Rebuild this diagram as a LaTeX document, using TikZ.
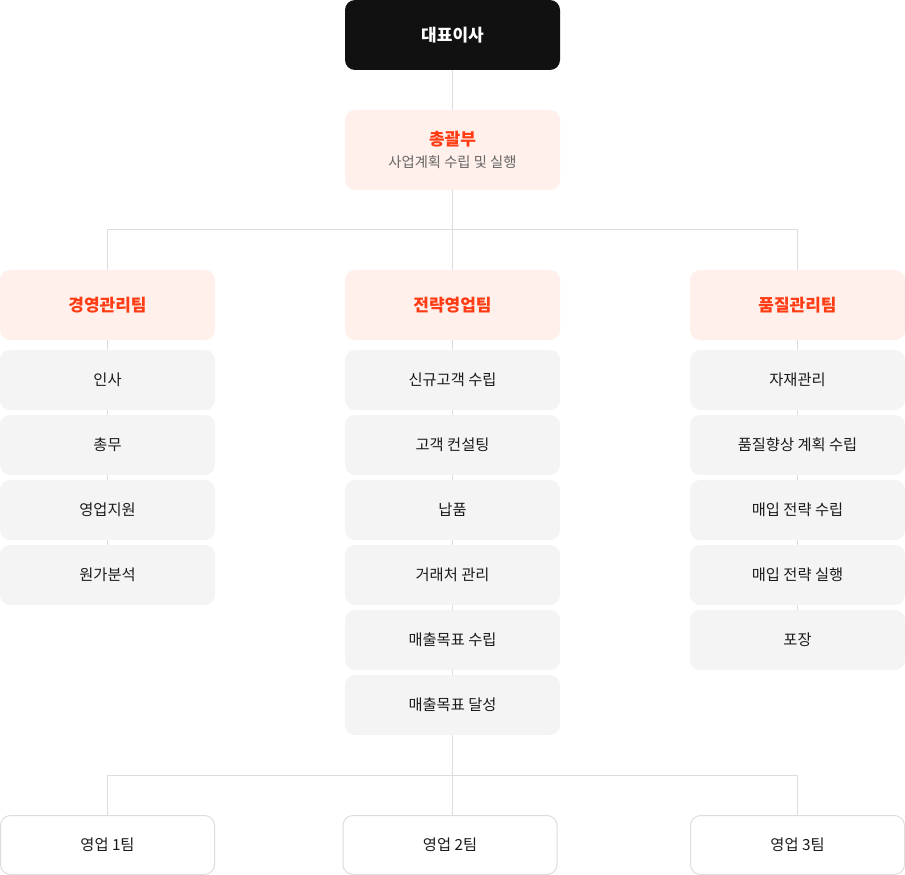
\documentclass[tikz,border=0pt]{standalone}
\usepackage{fontspec}
\setmainfont{Noto Sans CJK KR}
\usetikzlibrary{backgrounds}

\definecolor{boss}{HTML}{111111}
\definecolor{hdfill}{HTML}{FFF0EB}
\definecolor{hdtext}{HTML}{FF3C14}
\definecolor{itfill}{HTML}{F4F4F4}
\definecolor{ittext}{HTML}{1A1A1A}
\definecolor{subtext}{HTML}{666666}
\definecolor{wire}{HTML}{DDDDDD}

\tikzset{
  box/.style = {rectangle, rounded corners=10pt, minimum width=215pt, inner sep=0pt, align=center},
  bossbox/.style = {box, fill=boss, text=white, minimum height=70pt, font=\fontsize{17}{20}\selectfont\bfseries},
  genbox/.style = {box, fill=hdfill, minimum height=80pt},
  teambox/.style = {box, fill=hdfill, text=hdtext, minimum height=70pt, font=\fontsize{17}{20}\selectfont\bfseries},
  taskbox/.style = {box, fill=itfill, text=ittext, minimum height=60pt, font=\fontsize{15.3}{18}\selectfont},
  salesbox/.style = {box, fill=white, draw=wire, line width=1pt, text=ittext, minimum width=214pt, minimum height=59pt, font=\fontsize{15.3}{18}\selectfont},
  wireline/.style = {draw=wire, line width=1pt}
}

\begin{document}
\begin{tikzpicture}[x=1pt, y=-1pt]
\useasboundingbox (0,0) rectangle (905,875);

\node[bossbox] (ceo) at (452.5,35) {대표이사};
\node[genbox] (gen) at (452.5,150) {{\fontsize{17}{20}\selectfont\bfseries\color{hdtext}총괄부}\\[7pt]{\fontsize{14.3}{17}\selectfont\color{subtext}사업계획 수립 및 실행}};

\node[teambox] (mgmt) at (107.5,305) {경영관리팀};
\node[teambox] (strat) at (452.5,305) {전략영업팀};
\node[teambox] (qual) at (797.5,305) {품질관리팀};

\node[taskbox] (mgmt1) at (107.5,380) {인사};
\node[taskbox] (mgmt2) at (107.5,445) {총무};
\node[taskbox] (mgmt3) at (107.5,510) {영업지원};
\node[taskbox] (mgmt4) at (107.5,575) {원가분석};

\node[taskbox] (strat1) at (452.5,380) {신규고객 수립};
\node[taskbox] (strat2) at (452.5,445) {고객 컨설팅};
\node[taskbox] (strat3) at (452.5,510) {납품};
\node[taskbox] (strat4) at (452.5,575) {거래처 관리};
\node[taskbox] (strat5) at (452.5,640) {매출목표 수립};
\node[taskbox] (strat6) at (452.5,705) {매출목표 달성};

\node[taskbox] (qual1) at (797.5,380) {자재관리};
\node[taskbox] (qual2) at (797.5,445) {품질향상 계획 수립};
\node[taskbox] (qual3) at (797.5,510) {매입 전략 수립};
\node[taskbox] (qual4) at (797.5,575) {매입 전략 실행};
\node[taskbox] (qual5) at (797.5,640) {포장};

\node[salesbox] (sales1) at (107.5,845) {영업 1팀};
\node[salesbox] (sales2) at (450,845) {영업 2팀};
\node[salesbox] (sales3) at (797.5,845) {영업 3팀};

\begin{scope}[on background layer]
\draw[wireline] (ceo) -- (gen);
\draw[wireline] (gen.south) -- ++(0,39) coordinate (split);
\draw[wireline] (mgmt.north) |- (split) -| (qual.north);
\draw[wireline] (split) -- (strat.north);
\draw[wireline] (mgmt) -- (mgmt4);
\draw[wireline] (strat) -- (strat6);
\draw[wireline] (qual) -- (qual5);
\draw[wireline] (strat6.south) -- ++(0,40) coordinate (merge);
\draw[wireline] (sales1.north) |- (merge) -| (sales3.north);
\draw[wireline] (merge) -- (merge |- sales2.north);
\end{scope}
\end{tikzpicture}
\end{document}
